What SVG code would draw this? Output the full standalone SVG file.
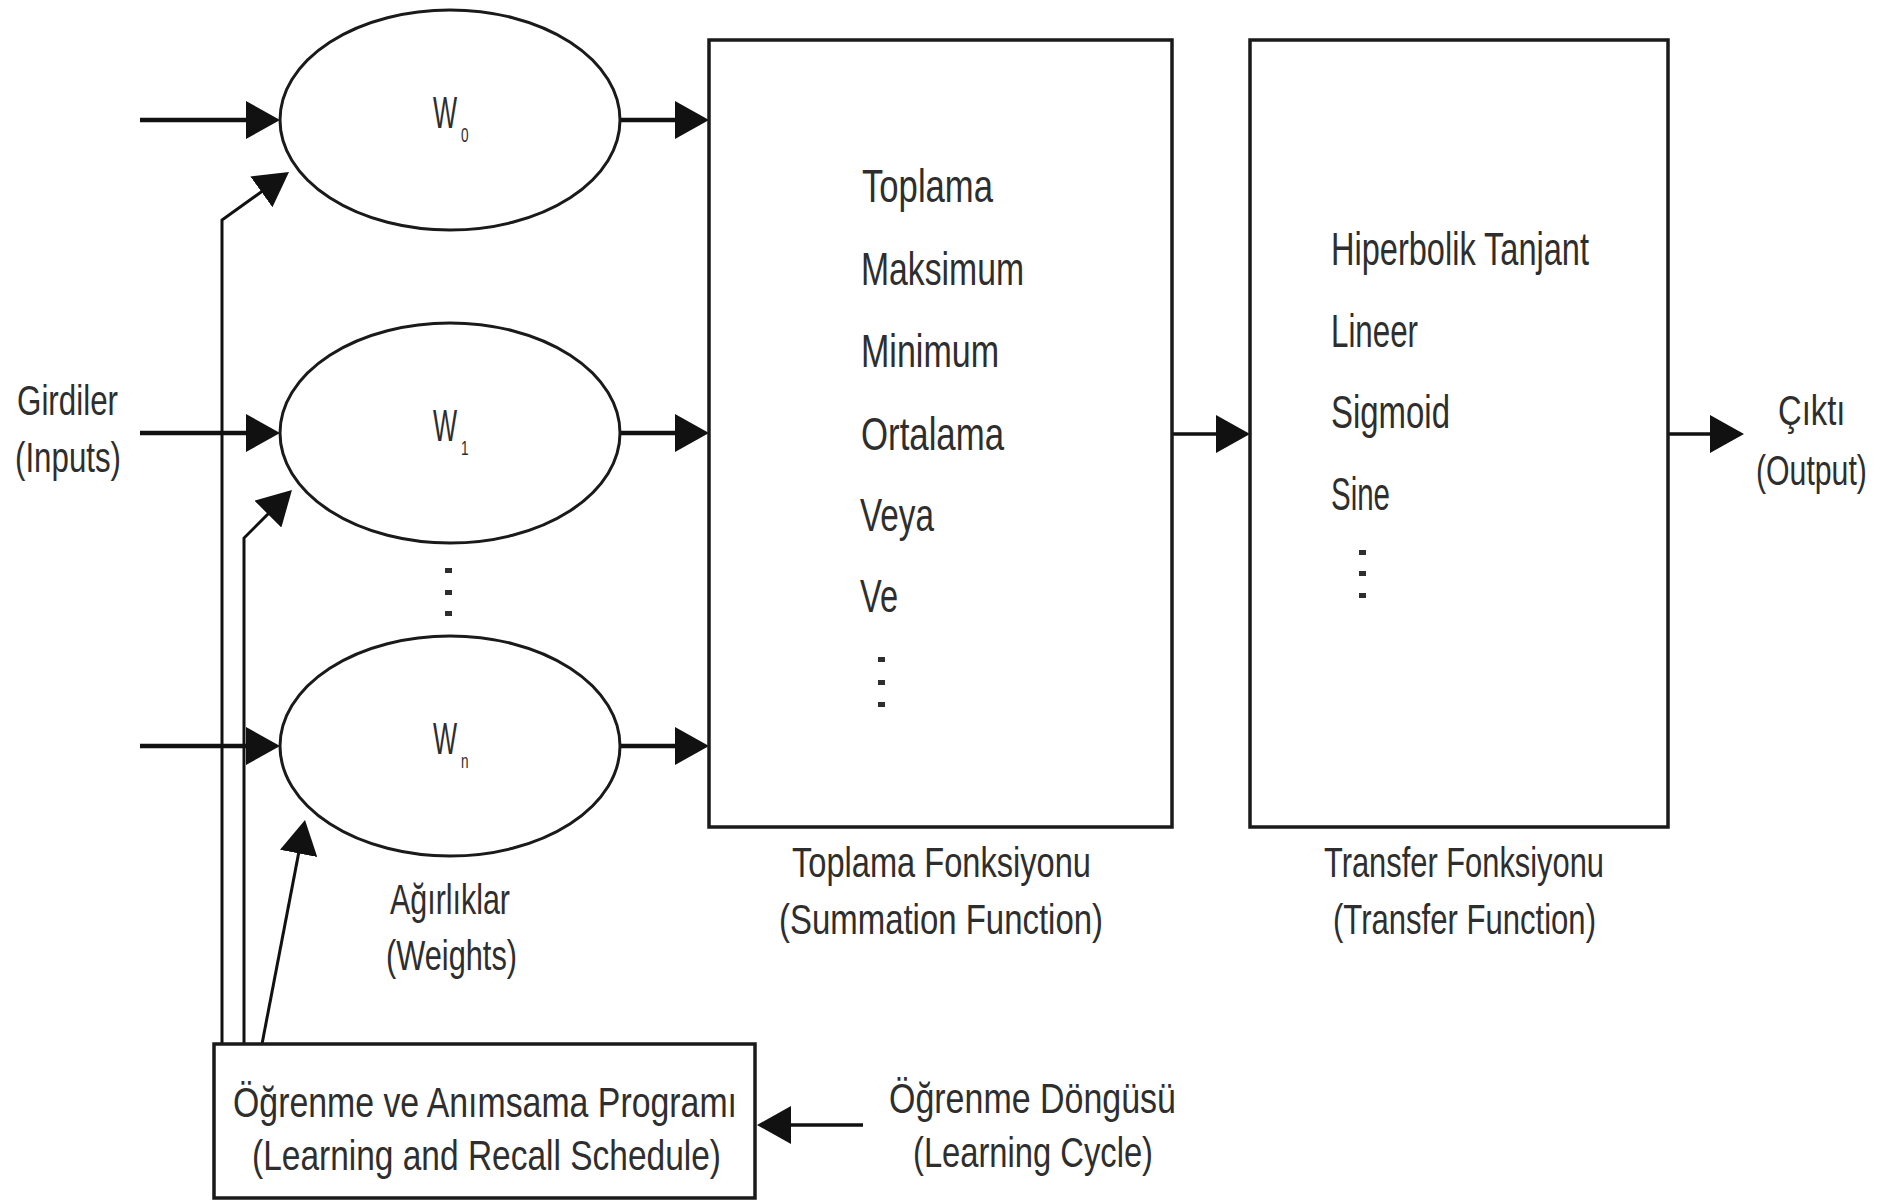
<svg xmlns="http://www.w3.org/2000/svg" width="1892" height="1203" viewBox="0 0 1892 1203">
<style>
  .bg { fill: #ffffff; }
  .shape { fill: #ffffff; stroke: #1a1a1a; stroke-width: 3.5; }
  .ell { fill: #ffffff; stroke: #1a1a1a; stroke-width: 3; }
  .thick { fill: none; stroke: #111111; stroke-width: 4.5; }
  .mid { fill: none; stroke: #111111; stroke-width: 3.5; }
  .thin { fill: none; stroke: #111111; stroke-width: 3; }
  text { font-family: "Liberation Sans", Arial, sans-serif; fill: #2e2e2e; }
  .big { font-size: 47px; }
  .lab { font-size: 42px; }
  .w { font-size: 44px; }
  .sub { font-size: 20px; }
  .dot { fill: #2e2e2e; }
</style>
<defs>
  <marker id="arr" viewBox="0 0 34 38" markerWidth="34" markerHeight="38" refX="26" refY="19" markerUnits="userSpaceOnUse" orient="auto">
    <path d="M0,0 L34,19 L0,38 Z" fill="#111111"/>
  </marker>
</defs>
<rect class="bg" x="0" y="0" width="1892" height="1203"/>

<g id="connectors">
  <line class="thick" x1="140" y1="120" x2="272" y2="120" marker-end="url(#arr)"/>
  <line class="thick" x1="140" y1="433" x2="272" y2="433" marker-end="url(#arr)"/>
  <line class="thick" x1="140" y1="746" x2="272" y2="746" marker-end="url(#arr)"/>
  <line class="thick" x1="620" y1="120" x2="701" y2="120" marker-end="url(#arr)"/>
  <line class="thick" x1="620" y1="433" x2="701" y2="433" marker-end="url(#arr)"/>
  <line class="thick" x1="620" y1="746" x2="701" y2="746" marker-end="url(#arr)"/>
  <line class="mid" x1="1172" y1="434" x2="1242" y2="434" marker-end="url(#arr)"/>
  <line class="mid" x1="1668" y1="434" x2="1736" y2="434" marker-end="url(#arr)"/>
  <polyline class="thin" points="222,1044 222,220 282.5,176.7" marker-end="url(#arr)"/>
  <polyline class="thin" points="244,1044 244,538 286.3,495.7" marker-end="url(#arr)"/>
  <line class="thin" x1="262" y1="1044" x2="303.5" y2="827.9" marker-end="url(#arr)"/>
  <line class="mid" x1="863" y1="1125" x2="765" y2="1125" marker-end="url(#arr)"/>
</g>

<g id="inputs-label">
  <text class="lab" x="17" y="415" textLength="101" lengthAdjust="spacingAndGlyphs">Girdiler</text>
  <text class="lab" x="15" y="472" textLength="106" lengthAdjust="spacingAndGlyphs">(Inputs)</text>
</g>

<g id="w0">
  <ellipse class="ell" cx="450" cy="120" rx="170" ry="110"/>
  <text class="w" transform="translate(433 128) scale(0.58 1)">W</text>
  <text class="sub" transform="translate(461 142) scale(0.68 1)">0</text>
</g>
<g id="w1">
  <ellipse class="ell" cx="450" cy="433" rx="170" ry="110"/>
  <text class="w" transform="translate(433 441) scale(0.58 1)">W</text>
  <text class="sub" transform="translate(461 455) scale(0.68 1)">1</text>
</g>
<g id="weights-dots">
  <rect class="dot" x="445" y="568" width="7" height="5"/>
  <rect class="dot" x="445" y="590" width="7" height="5"/>
  <rect class="dot" x="445" y="611" width="7" height="5"/>
</g>
<g id="wn">
  <ellipse class="ell" cx="450" cy="746" rx="170" ry="110"/>
  <text class="w" transform="translate(433 754) scale(0.58 1)">W</text>
  <text class="sub" transform="translate(461 768) scale(0.68 1)">n</text>
</g>
<g id="weights-label">
  <text class="lab" x="390" y="914" textLength="120" lengthAdjust="spacingAndGlyphs">Ağırlıklar</text>
  <text class="lab" x="386" y="970" textLength="131" lengthAdjust="spacingAndGlyphs">(Weights)</text>
</g>

<g id="summation">
  <rect class="shape" x="709" y="40" width="463" height="787"/>
  <text class="big" x="862" y="202" textLength="131" lengthAdjust="spacingAndGlyphs">Toplama</text>
  <text class="big" x="861" y="285" textLength="163" lengthAdjust="spacingAndGlyphs">Maksimum</text>
  <text class="big" x="861" y="367" textLength="138" lengthAdjust="spacingAndGlyphs">Minimum</text>
  <text class="big" x="861" y="450" textLength="143" lengthAdjust="spacingAndGlyphs">Ortalama</text>
  <text class="big" x="860" y="531" textLength="74" lengthAdjust="spacingAndGlyphs">Veya</text>
  <text class="big" x="860" y="612" textLength="38" lengthAdjust="spacingAndGlyphs">Ve</text>
  <rect class="dot" x="878" y="657" width="7" height="5"/>
  <rect class="dot" x="878" y="680" width="7" height="5"/>
  <rect class="dot" x="878" y="702" width="7" height="5"/>
  <text class="lab" x="792" y="877" textLength="299" lengthAdjust="spacingAndGlyphs">Toplama Fonksiyonu</text>
  <text class="lab" x="779" y="934" textLength="324" lengthAdjust="spacingAndGlyphs">(Summation Function)</text>
</g>

<g id="transfer">
  <rect class="shape" x="1250" y="40" width="418" height="787"/>
  <text class="big" x="1331" y="265" textLength="258" lengthAdjust="spacingAndGlyphs">Hiperbolik Tanjant</text>
  <text class="big" x="1331" y="347" textLength="87" lengthAdjust="spacingAndGlyphs">Lineer</text>
  <text class="big" x="1331" y="428" textLength="119" lengthAdjust="spacingAndGlyphs">Sigmoid</text>
  <text class="big" x="1331" y="510" textLength="59" lengthAdjust="spacingAndGlyphs">Sine</text>
  <rect class="dot" x="1359" y="550" width="7" height="5"/>
  <rect class="dot" x="1359" y="571" width="7" height="5"/>
  <rect class="dot" x="1359" y="593" width="7" height="5"/>
  <text class="lab" x="1324" y="877" textLength="280" lengthAdjust="spacingAndGlyphs">Transfer Fonksiyonu</text>
  <text class="lab" x="1333" y="934" textLength="263" lengthAdjust="spacingAndGlyphs">(Transfer Function)</text>
</g>

<g id="output-label">
  <text class="lab" transform="translate(1778 425) scale(0.78 1)" x="0" y="0">Çıktı</text>
  <text class="lab" transform="translate(1756 485) scale(0.72 1)" x="0" y="0">(Output)</text>
</g>

<g id="schedule">
  <rect class="shape" x="214" y="1044" width="541" height="154"/>
  <text class="lab" x="233" y="1117" textLength="504" lengthAdjust="spacingAndGlyphs">Öğrenme ve Anımsama Programı</text>
  <text class="lab" x="252" y="1170" textLength="469" lengthAdjust="spacingAndGlyphs">(Learning and Recall Schedule)</text>
</g>

<g id="learning-cycle">
  <text class="lab" x="889" y="1113" textLength="287" lengthAdjust="spacingAndGlyphs">Öğrenme Döngüsü</text>
  <text class="lab" x="913" y="1167" textLength="240" lengthAdjust="spacingAndGlyphs">(Learning Cycle)</text>
</g>
</svg>
